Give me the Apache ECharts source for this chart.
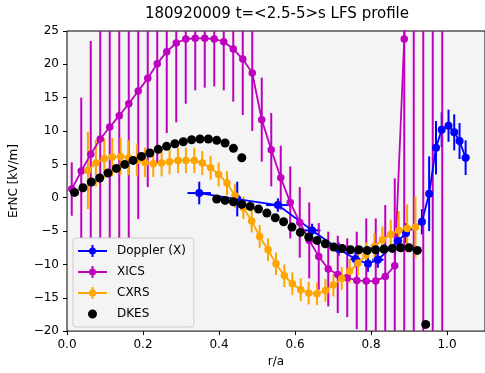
<!DOCTYPE html>
<html><head><meta charset="utf-8">
<script src="https://cdn.jsdelivr.net/npm/echarts@6/dist/echarts.min.js"></script>
<style>html,body{margin:0;padding:0;background:#fff}#c{width:485px;height:373px}</style>
</head><body><div id="c"></div>
<script>
// ---- Doppler (X) ----
const dopX    = [0.348,0.448,0.555,0.645,0.715,0.759,0.792,0.818,0.871,0.892,0.934,0.953,0.971,0.986,1.004,1.019,1.033,1.049];
const dopY    = [0.7,-0.2,-1.1,-4.9,-7.7,-9.2,-9.9,-9.3,-6.5,-5.3,-3.6,0.6,7.5,10.2,10.8,9.8,8.5,6.0];
const dopYErr = [1.7,2.6,1.0,1.0,1.0,1.2,1.2,1.2,1.5,1.5,1.9,5.6,4.0,2.6,2.4,2.7,2.7,2.6];
const dopXErr = [0.031,0.004,0.031,0.022,0.008,0.013,0.008,0.015,0.011,0.006,0.004,0.004,0.004,0.004,0.004,0.004,0.004,0.010];
// ---- XICS ----
const xicsX   = [0.0125,0.0375,0.0625,0.0875,0.1125,0.1375,0.1625,0.1875,0.2125,0.2375,0.2625,0.2875,0.3125,0.3375,0.3625,0.3875,0.4125,0.4375,0.4625,0.4875,0.5125,0.5375,0.5625,0.5875,0.6125,0.6375,0.6625,0.6875,0.7125,0.7375,0.7625,0.7875,0.8125,0.8375,0.8625,0.8875,0.9125,0.9375,0.9625,0.9875];
const xicsY   = [1.3,4.0,6.5,8.8,10.6,12.3,14.1,16.0,17.9,20.1,21.9,23.2,23.8,23.9,23.9,23.8,23.4,22.3,20.8,18.7,11.7,7.2,3.0,-0.7,-3.7,-6.4,-8.8,-10.7,-11.5,-12.0,-12.4,-12.5,-12.5,-11.8,-10.2,23.8,60,60,60,60];
const xicsErr = [4,11,17,21,22.7,23,21.3,19.2,16.3,15,12.2,11.9,9.7,7.8,7.4,7.1,7.3,7.9,8.4,8.7,6.3,5.5,4.8,5.4,5.3,5.7,5.0,5.6,5.8,5.9,7.3,9.4,9.4,10.7,13.1,48,100,100,100,100];
// ---- CXRS ----
const cxX   = [0.055,0.076,0.098,0.119,0.141,0.162,0.184,0.205,0.227,0.249,0.270,0.292,0.313,0.335,0.356,0.378,0.399,0.421,0.442,0.464,0.486,0.507,0.529,0.550,0.572,0.593,0.615,0.636,0.658,0.680,0.701,0.723,0.744,0.766,0.787,0.809,0.830,0.852,0.873,0.895,0.917];
const cxY   = [4.1,5.2,5.9,6.1,6.2,6.0,5.6,5.3,5.1,5.2,5.4,5.6,5.6,5.6,5.2,4.5,3.5,2.2,0.3,-1.5,-3.5,-5.8,-7.8,-9.9,-11.7,-12.9,-13.8,-14.3,-14.4,-13.9,-13.1,-12.1,-11.0,-9.8,-8.6,-7.3,-6.3,-5.5,-4.9,-4.6,-4.4];
const cxErr = [5.8,3.5,3.0,2.9,2.8,2.6,2.4,2.2,2.0,2.0,1.9,1.9,1.9,1.9,1.8,1.8,1.8,1.8,1.8,1.7,1.7,1.7,1.7,1.7,1.7,1.7,1.7,1.7,1.7,1.7,1.7,1.7,1.8,1.8,1.9,2.0,2.0,2.2,2.9,3.6,4.6];
// ---- DKES ----
const dkesX1 = [0.020,0.042,0.064,0.086,0.108,0.130,0.152,0.174,0.196,0.218,0.240,0.262,0.284,0.306,0.328,0.350,0.372,0.394,0.416,0.438,0.460];
const dkesY1 = [0.8,1.5,2.35,2.95,3.7,4.4,5.0,5.6,6.2,6.7,7.25,7.7,8.1,8.4,8.7,8.8,8.8,8.6,8.2,7.4,6.0];
const dkesX2 = [0.394,0.416,0.438,0.460,0.482,0.504,0.526,0.548,0.570,0.592,0.614,0.636,0.658,0.680,0.702,0.724,0.746,0.768,0.790,0.812,0.834,0.856,0.878,0.900,0.922,0.944];
const dkesY2 = [-0.2,-0.4,-0.6,-1.0,-1.3,-1.7,-2.3,-3.0,-3.6,-4.4,-5.2,-5.9,-6.4,-6.9,-7.4,-7.6,-7.8,-7.8,-7.9,-7.8,-7.7,-7.6,-7.5,-7.5,-7.9,-19.0];
// ---- axes ----
const xTicks = [0.0,0.2,0.4,0.6,0.8,1.0];
const yTicks = [-20,-15,-10,-5,0,5,10,15,20,25];

const C_DOP = '#0000ff', C_XICS = '#bf00bf', C_CX = '#ffa500', C_DK = '#000000';
const FONT = 'DejaVu Sans';

const pairs = (xs, ys) => xs.map((x, i) => [x, ys[i]]);
const triples = (xs, ys, es) => xs.map((x, i) => [x, ys[i], es[i]]);

function vbar(color, lw) {
  return function (params, api) {
    const x = api.value(0), y = api.value(1), e = api.value(2);
    const a = api.coord([x, y - e]), b = api.coord([x, y + e]);
    return {type: 'line', shape: {x1: a[0], y1: a[1], x2: b[0], y2: b[1]}, style: {stroke: color, lineWidth: lw}};
  };
}
function xybar(color, lw) {
  return function (params, api) {
    const x = api.value(0), y = api.value(1), ey = api.value(2), ex = api.value(3);
    const a = api.coord([x, y - ey]), b = api.coord([x, y + ey]);
    const c = api.coord([x - ex, y]), d = api.coord([x + ex, y]);
    return {type: 'group', children: [
      {type: 'line', shape: {x1: a[0], y1: a[1], x2: b[0], y2: b[1]}, style: {stroke: color, lineWidth: lw}},
      {type: 'line', shape: {x1: c[0], y1: c[1], x2: d[0], y2: d[1]}, style: {stroke: color, lineWidth: lw}}
    ]};
  };
}

const ebIcon = 'path://M0,5L29,5L29,7L0,7Z M13.5,0L15.5,0L15.5,12L13.5,12Z M11,6A3.5,3.5 0 1,1 18,6A3.5,3.5 0 1,1 11,6Z';
const dotIcon = 'path://M0,0Z M29,12Z M10,6A4.5,4.5 0 1,1 19,6A4.5,4.5 0 1,1 10,6Z';

const chart = echarts.init(document.getElementById('c'), null, {renderer: 'canvas'});
chart.setOption({
  animation: false,
  backgroundColor: '#ffffff',
  textStyle: {fontFamily: FONT},
  title: {
    text: '180920009 t=<2.5-5>s LFS profile',
    left: 277, top: 7, textAlign: 'center', padding: 0,
    textStyle: {fontFamily: FONT, fontSize: 15, fontWeight: 'normal', color: '#000'}
  },
  grid: {
    left: 67, top: 31, right: -2, bottom: 40,
    show: true, backgroundColor: '#f4f4f4', borderColor: '#000', borderWidth: 1
  },
  legend: {
    orient: 'vertical', left: 73, top: 238,
    padding: [6, 8, 6, 5], itemGap: 7, itemWidth: 29, itemHeight: 12,
    backgroundColor: '#f4f4f4', borderColor: '#cccccc', borderWidth: 1, borderRadius: 3,
    itemStyle: {borderWidth: 0},
    textStyle: {fontFamily: FONT, fontSize: 12, color: '#000', lineHeight: 14, padding: [0, 0, 0, 5]},
    data: [
      {name: 'Doppler (X)', icon: ebIcon},
      {name: 'XICS', icon: ebIcon},
      {name: 'CXRS', icon: ebIcon},
      {name: 'DKES', icon: dotIcon}
    ]
  },
  xAxis: {
    type: 'value', min: 0, max: 1.1, interval: 0.2,
    name: 'r/a', nameLocation: 'middle', nameGap: 24,
    nameTextStyle: {fontFamily: FONT, fontSize: 12, color: '#000'},
    axisLine: {show: false, onZero: false},
    axisTick: {show: true, length: 4, lineStyle: {color: '#000'},
      customValues: xTicks},
    axisLabel: {fontFamily: FONT, fontSize: 12, color: '#000', margin: 8,
      customValues: xTicks,
      formatter: v => v.toFixed(1)},
    splitLine: {show: false}
  },
  yAxis: {
    type: 'value', min: -20, max: 25, interval: 5,
    name: 'ErNC [kV/m]', nameLocation: 'middle', nameGap: 47,
    nameTextStyle: {fontFamily: FONT, fontSize: 12, color: '#000'},
    axisLine: {show: false, onZero: false},
    axisTick: {show: true, length: 4, lineStyle: {color: '#000'}, customValues: yTicks},
    axisLabel: {fontFamily: FONT, fontSize: 12, color: '#000', margin: 8, customValues: yTicks,
      formatter: v => (v < 0 ? '\u2212' + Math.abs(v) : String(v))},
    splitLine: {show: false}
  },
  series: [
    {type: 'custom', clip: true, renderItem: xybar(C_DOP, 2), encode: {x: 0, y: 1},
      data: dopX.map((x, i) => [x, dopY[i], dopYErr[i], dopXErr[i]]), z: 2},
    {name: 'Doppler (X)', type: 'line', data: pairs(dopX, dopY), symbol: 'circle', symbolSize: 8,
      color: C_DOP, lineStyle: {width: 1.8, color: C_DOP}, itemStyle: {color: C_DOP, borderWidth: 0}, clip: true, z: 2},
    {type: 'custom', clip: true, renderItem: vbar(C_XICS, 2), encode: {x: 0, y: 1},
      data: triples(xicsX, xicsY, xicsErr), z: 2},
    {name: 'XICS', type: 'line', data: pairs(xicsX, xicsY), symbol: 'circle', symbolSize: 7.5,
      color: C_XICS, lineStyle: {width: 1.8, color: C_XICS}, itemStyle: {color: C_XICS, borderWidth: 0}, clip: true, z: 2},
    {type: 'custom', clip: true, renderItem: vbar(C_CX, 2), encode: {x: 0, y: 1},
      data: triples(cxX, cxY, cxErr), z: 2},
    {name: 'CXRS', type: 'line', data: pairs(cxX, cxY), symbol: 'circle', symbolSize: 7.5,
      color: C_CX, lineStyle: {width: 1.8, color: C_CX}, itemStyle: {color: C_CX, borderWidth: 0}, clip: true, z: 2},
    {name: 'DKES', type: 'scatter', data: pairs(dkesX1, dkesY1).concat(pairs(dkesX2, dkesY2)),
      symbol: 'circle', symbolSize: 9, color: C_DK, itemStyle: {color: C_DK, borderWidth: 0, opacity: 1}, clip: true, z: 3}
  ]
});
</script>
</body></html>
